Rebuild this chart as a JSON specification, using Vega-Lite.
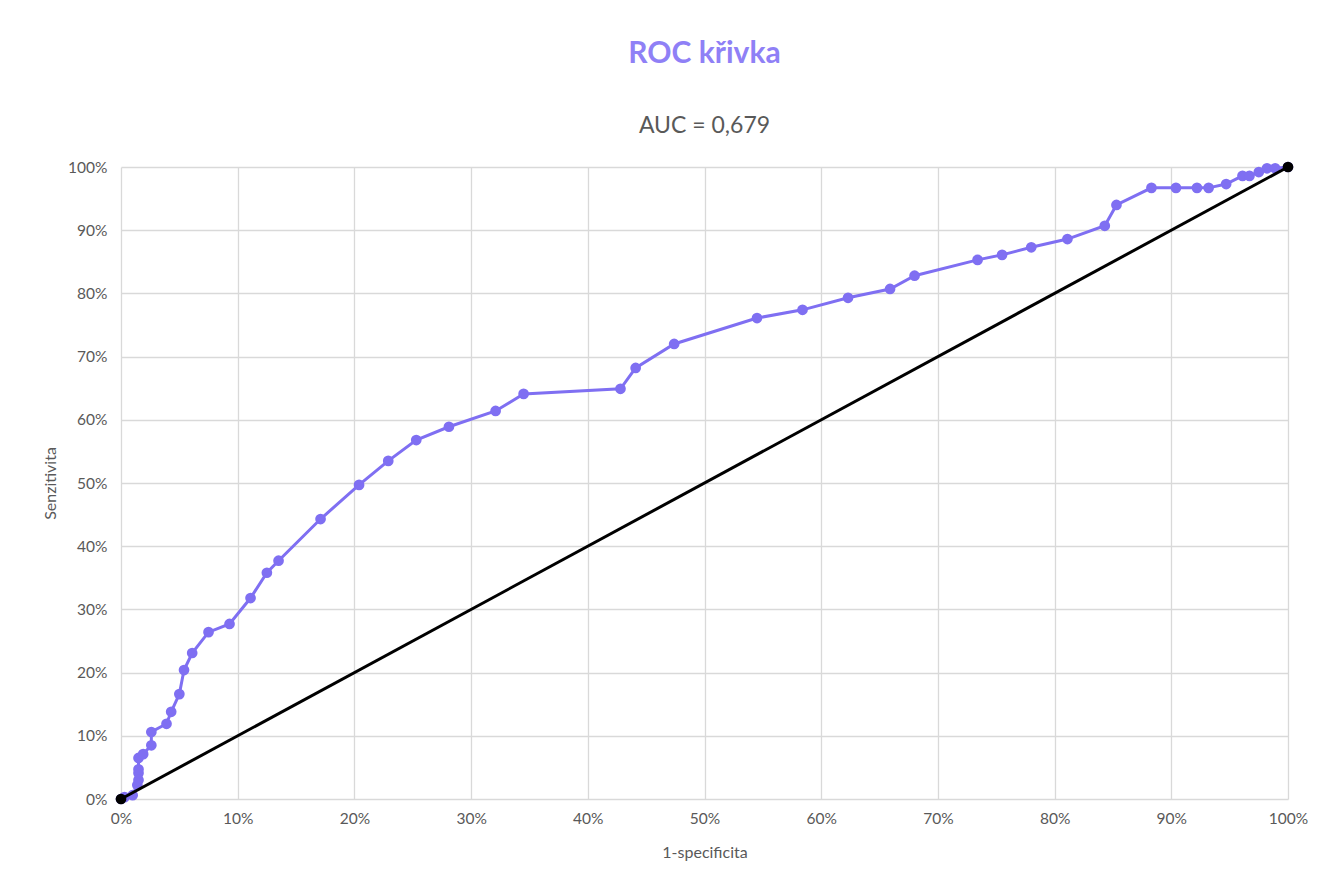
{
  "$schema": "https://vega.github.io/schema/vega-lite/v6.json",
  "width": 1167,
  "height": 632,
  "autosize": {"type": "none"},
  "padding": {"left": 121, "top": 167, "right": 32, "bottom": 82},
  "background": "white",
  "config": {
    "font": "Lato",
    "view": {"stroke": null},
    "axis": {
      "labelFont": "Lato",
      "titleFont": "Lato",
      "labelColor": "#595959",
      "titleColor": "#595959",
      "labelFontSize": 15.5,
      "titleFontSize": 16,
      "titleFontWeight": "normal",
      "gridColor": "#d9d9d9",
      "gridWidth": 1.3,
      "ticks": false,
      "domain": false,
      "labelFlush": false
    }
  },
  "title": {
    "text": "ROC křivka",
    "subtitle": "AUC = 0,679",
    "font": "Lato",
    "fontSize": 30,
    "fontWeight": "bold",
    "color": "#8F80F6",
    "subtitleFont": "Lato",
    "subtitleFontSize": 23,
    "subtitleColor": "#595959",
    "subtitlePadding": 46,
    "anchor": "middle",
    "offset": 22
  },
  "datasets": {
    "roc": [
      {"fpr": 0.0, "tpr": 0.0},
      {"fpr": 0.003, "tpr": 0.003},
      {"fpr": 0.010, "tpr": 0.006},
      {"fpr": 0.014, "tpr": 0.022},
      {"fpr": 0.015, "tpr": 0.030},
      {"fpr": 0.015, "tpr": 0.041},
      {"fpr": 0.015, "tpr": 0.047},
      {"fpr": 0.015, "tpr": 0.065},
      {"fpr": 0.019, "tpr": 0.071},
      {"fpr": 0.026, "tpr": 0.085},
      {"fpr": 0.026, "tpr": 0.106},
      {"fpr": 0.039, "tpr": 0.119},
      {"fpr": 0.043, "tpr": 0.138},
      {"fpr": 0.050, "tpr": 0.166},
      {"fpr": 0.054, "tpr": 0.204},
      {"fpr": 0.061, "tpr": 0.231},
      {"fpr": 0.075, "tpr": 0.264},
      {"fpr": 0.093, "tpr": 0.277},
      {"fpr": 0.111, "tpr": 0.318},
      {"fpr": 0.125, "tpr": 0.358},
      {"fpr": 0.135, "tpr": 0.377},
      {"fpr": 0.171, "tpr": 0.443},
      {"fpr": 0.204, "tpr": 0.497},
      {"fpr": 0.229, "tpr": 0.535},
      {"fpr": 0.253, "tpr": 0.568},
      {"fpr": 0.281, "tpr": 0.589},
      {"fpr": 0.321, "tpr": 0.614},
      {"fpr": 0.345, "tpr": 0.641},
      {"fpr": 0.428, "tpr": 0.649},
      {"fpr": 0.441, "tpr": 0.682},
      {"fpr": 0.474, "tpr": 0.720},
      {"fpr": 0.545, "tpr": 0.761},
      {"fpr": 0.584, "tpr": 0.774},
      {"fpr": 0.623, "tpr": 0.793},
      {"fpr": 0.659, "tpr": 0.807},
      {"fpr": 0.680, "tpr": 0.828},
      {"fpr": 0.734, "tpr": 0.853},
      {"fpr": 0.755, "tpr": 0.861},
      {"fpr": 0.780, "tpr": 0.873},
      {"fpr": 0.811, "tpr": 0.886},
      {"fpr": 0.843, "tpr": 0.907},
      {"fpr": 0.853, "tpr": 0.940},
      {"fpr": 0.883, "tpr": 0.967},
      {"fpr": 0.904, "tpr": 0.967},
      {"fpr": 0.922, "tpr": 0.967},
      {"fpr": 0.932, "tpr": 0.967},
      {"fpr": 0.947, "tpr": 0.973},
      {"fpr": 0.961, "tpr": 0.986},
      {"fpr": 0.967, "tpr": 0.986},
      {"fpr": 0.975, "tpr": 0.992},
      {"fpr": 0.982, "tpr": 0.998},
      {"fpr": 0.989, "tpr": 0.998},
      {"fpr": 1.0, "tpr": 1.0}
    ],
    "diag": [
      {"fpr": 0.0, "tpr": 0.0},
      {"fpr": 1.0, "tpr": 1.0}
    ]
  },
  "encoding": {
    "x": {
      "field": "fpr",
      "type": "quantitative",
      "scale": {"domain": [0, 1], "nice": false},
      "axis": {"format": ".0%", "values": [0, 0.1, 0.2, 0.3, 0.4, 0.5, 0.6, 0.7, 0.8, 0.9, 1.0], "title": "1-specificita", "titlePadding": 18, "labelPadding": 12}
    },
    "y": {
      "field": "tpr",
      "type": "quantitative",
      "scale": {"domain": [0, 1], "nice": false},
      "axis": {"format": ".0%", "values": [0, 0.1, 0.2, 0.3, 0.4, 0.5, 0.6, 0.7, 0.8, 0.9, 1.0], "title": "Senzitivita", "titlePadding": 9, "labelPadding": 14}
    }
  },
  "layer": [
    {
      "data": {"name": "roc"},
      "mark": {"type": "line", "color": "#7F6FF2", "strokeWidth": 3, "point": {"filled": true, "size": 115, "color": "#7F6FF2", "opacity": 1}}
    },
    {
      "data": {"name": "diag"},
      "mark": {"type": "line", "color": "#000000", "strokeWidth": 3, "point": {"filled": true, "size": 115, "color": "#000000", "opacity": 1}}
    }
  ]
}
